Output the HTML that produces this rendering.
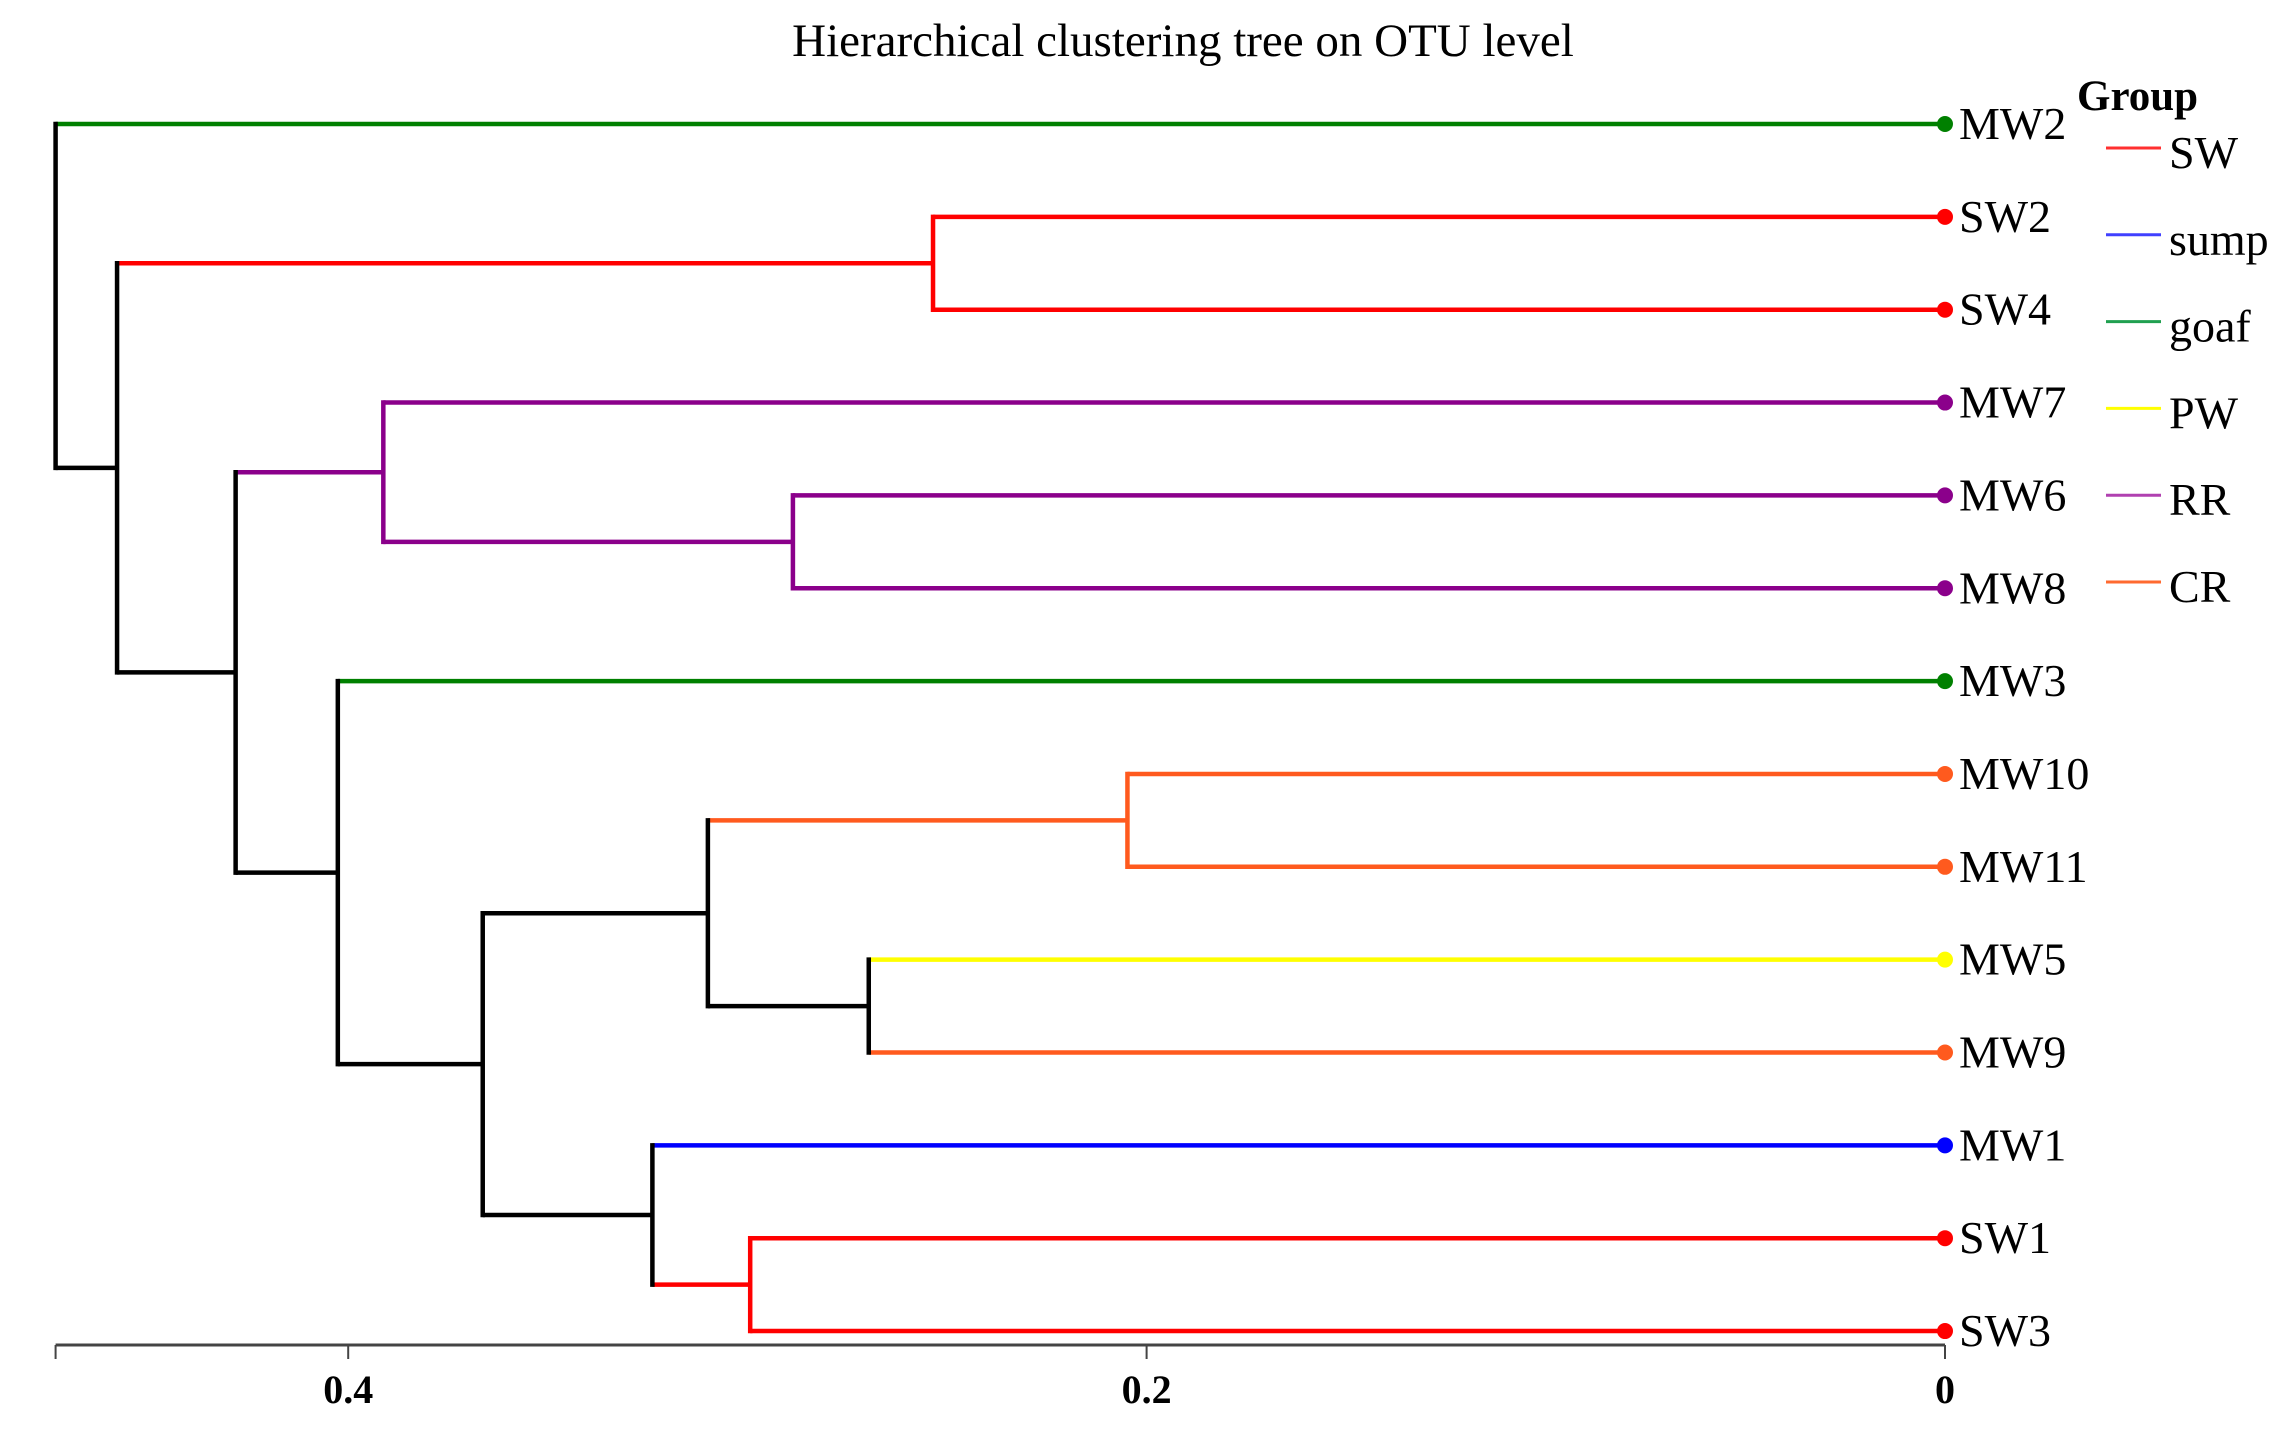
<!DOCTYPE html>
<html><head><meta charset="utf-8"><style>
html,body{margin:0;padding:0;background:#fff;}
svg{display:block;font-family:"Liberation Serif",serif;}
</style></head><body>
<svg id="chart" width="2293" height="1444" viewBox="0 0 2293 1444">
<text x="1183" y="56" text-anchor="middle" font-size="47">Hierarchical clustering tree on OTU level</text>
<g id="tree"></g>
<g id="axis"></g>
<g id="legend"></g>
</svg>
<script>
const leaves = ["MW2","SW2","SW4","MW7","MW6","MW8","MW3","MW10","MW11","MW5","MW9","MW1","SW1","SW3"];
const leafGroups = ["goaf","SW","SW","RR","RR","RR","goaf","CR","CR","PW","CR","sump","SW","SW"];
const merges = [
  [1, 2, 0.2535],
  [4, 5, 0.2886],
  [3, "n1", 0.3912],
  [7, 8, 0.2048],
  [9, 10, 0.2696],
  ["n3", "n4", 0.3099],
  [12, 13, 0.2993],
  [11, "n6", 0.3238],
  ["n5", "n7", 0.3663],
  [6, "n8", 0.4026],
  ["n2", "n9", 0.4282],
  ["n0", "n10", 0.4579],
  [0, "n11", 0.4733]
];
const tickValues = [0.4, 0.2, 0];
const tickLabels = ["0.4", "0.2", "0"];
const legendGroups = ["SW","sump","goaf","PW","RR","CR"];
const groupColors = {SW:"#ff0000", sump:"#0000ff", goaf:"#008000", PW:"#ffff00", RR:"#8b008b", CR:"#ff5a1e"};
const legendColors = {SW:"#ff3030", sump:"#4040ff", goaf:"#20a050", PW:"#ffff00", RR:"#b040b0", CR:"#ff6a30"};

const NS = "http://www.w3.org/2000/svg";
const x = v => 1945 - v * 3992;
const y = i => 124 + i * 92.85;
const axisMax = 0.4733;

function mk(tag, attrs, parent) {
  const e = document.createElementNS(NS, tag);
  for (const k in attrs) e.setAttribute(k, attrs[k]);
  parent.appendChild(e);
  return e;
}
const tree = document.getElementById("tree");
const info = {};
function get(c) {
  if (typeof c === "number") return {x: x(0), y: y(c), h: 0, groups: new Set([leafGroups[c]])};
  return info[c];
}
merges.forEach((m, k) => {
  const a = get(m[0]), b = get(m[1]);
  const nx = x(m[2]);
  const groups = new Set([...a.groups, ...b.groups]);
  const pure = groups.size === 1 ? groupColors[[...groups][0]] : "#000";
  [a, b].forEach((c) => {
    const col = c.groups.size === 1 ? groupColors[[...c.groups][0]] : "#000";
    const ln = mk("line", {x1: nx, y1: c.y, x2: c.x, y2: c.y, stroke: col, "stroke-width": 4.5}, tree);
    
    
  });
  const v = mk("line", {x1: nx, y1: a.y, x2: nx, y2: b.y, stroke: pure, "stroke-width": 4.5, "stroke-linecap": "square"}, tree);
  
  
  info["n" + k] = {x: nx, y: (a.y + b.y) / 2, h: m[2], groups};
});
leaves.forEach((name, i) => {
  const c = mk("circle", {cx: x(0), cy: y(i), r: 8, fill: groupColors[leafGroups[i]]}, tree);
  
  
  const t = mk("text", {x: x(0) + 14, y: y(i) + 15, "font-size": 46}, tree);
  t.textContent = name;
  
  
});
const axis = document.getElementById("axis");
const ay = 1345;
const al = mk("line", {x1: x(axisMax), y1: ay, x2: x(0), y2: ay, stroke: "#444", "stroke-width": 3}, axis);


const lt = mk("line", {x1: x(axisMax), y1: ay, x2: x(axisMax), y2: ay + 14, stroke: "#444", "stroke-width": 2}, axis);


tickValues.forEach((v, i) => {
  const tk = mk("line", {x1: x(v), y1: ay, x2: x(v), y2: ay + 14, stroke: "#444", "stroke-width": 2}, axis);
  
  
  const tl = mk("text", {x: x(v), y: ay + 58, "font-size": 40, "font-weight": "bold", "text-anchor": "middle"}, axis);
  tl.textContent = tickLabels[i];
  
  
});
const lg = document.getElementById("legend");
const gt = mk("text", {x: 2077, y: 110, "font-size": 43, "font-weight": "bold"}, lg);
gt.textContent = "Group";


legendGroups.forEach((g, i) => {
  const ly = 148 + i * 86.8;
  const l = mk("line", {x1: 2106, y1: ly, x2: 2161, y2: ly, stroke: legendColors[g], "stroke-width": 3}, lg);
  
  
  const t = mk("text", {x: 2169, y: ly + 20, "font-size": 46}, lg);
  t.textContent = g;
  
  
});
</script>
</body></html>
